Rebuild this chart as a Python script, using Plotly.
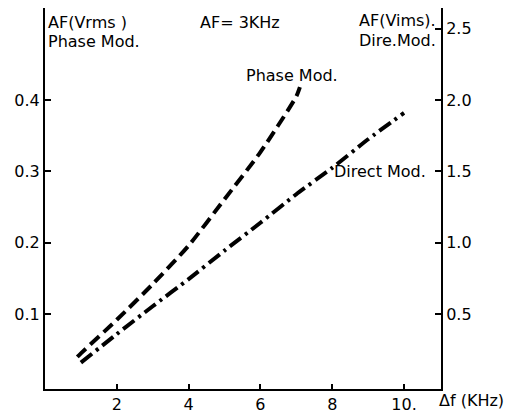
import plotly.graph_objects as go

# Data
freq_phase = [0.9, 1, 2, 3, 4, 5, 6, 7, 7.1]
af_phase = [0.040, 0.045, 0.092, 0.142, 0.196, 0.261, 0.327, 0.405, 0.418]   # left axis (Vrms)

freq_direct = [1, 2, 3, 4, 5, 6, 7, 8, 9, 10]
af_direct = [0.16, 0.36, 0.555, 0.745, 0.945, 1.14, 1.34, 1.525, 1.725, 1.91]  # right axis (Vrms)

x_ticks = [2, 4, 6, 8, 10]
x_ticktext = ["2", "4", "6", "8", "10."]
y1_ticks = [0.1, 0.2, 0.3, 0.4]
y1_ticktext = ["0.1", "0.2", "0.3", "0.4"]
y2_ticks = [0.5, 1.0, 1.5, 2.0, 2.5]
y2_ticktext = ["0.5", "1.0", "1.5", "2.0", "2.5"]

FONT = "DejaVu Sans"
FS = 16

fig = go.Figure()
fig.add_trace(go.Scatter(x=freq_phase, y=af_phase, mode="lines",
                         line=dict(color="black", width=4, dash="12px,6px", shape="spline", smoothing=0.6),
                         yaxis="y", showlegend=False))
fig.add_trace(go.Scatter(x=freq_direct, y=af_direct, mode="lines",
                         line=dict(color="black", width=4, dash="14px,5px,3px,5px", shape="spline", smoothing=0.6),
                         yaxis="y2", showlegend=False))

axis_common = dict(showgrid=False, zeroline=False, showline=True, linecolor="black",
                   linewidth=2, ticks="inside", tickcolor="black", tickwidth=1.5,
                   tickfont=dict(family=FONT, size=FS, color="black"))

fig.update_layout(
    width=507, height=407,
    margin=dict(l=37, r=74, t=0, b=26),
    paper_bgcolor="white", plot_bgcolor="white",
    font=dict(family=FONT, size=FS, color="black"),
    xaxis=dict(range=[0, 11.03], tickvals=x_ticks, ticktext=x_ticktext, ticklen=5, **axis_common),
    yaxis=dict(range=[-0.005, 0.529], tickvals=y1_ticks, ticktext=y1_ticktext, ticklen=6, **axis_common),
    yaxis2=dict(range=[-0.025, 2.645], tickvals=y2_ticks, ticktext=y2_ticktext, ticklen=6,
                overlaying="y", side="right", **axis_common),
)

ann = [
    dict(x=0.02, y=0.509, text="AF(Vrms )", xanchor="left"),
    dict(x=0.02, y=0.482, text="Phase Mod.", xanchor="left"),
    dict(x=5.42, y=0.509, text="AF= 3KHz", xanchor="center"),
    dict(x=10.95, y=0.511, text="AF(Vims).", xanchor="right"),
    dict(x=10.95, y=0.484, text="Dire.Mod.", xanchor="right"),
    dict(x=5.55, y=0.435, text="Phase Mod.", xanchor="left"),
    dict(x=7.98, y=0.300, text="Direct Mod.", xanchor="left"),
]
for a in ann:
    fig.add_annotation(xref="x", yref="y", yanchor="middle", showarrow=False,
                       font=dict(family=FONT, size=FS, color="black"), **a)
fig.add_annotation(xref="paper", yref="paper", x=0.99, y=-0.03, text="Δf (KHz)",
                   xanchor="left", yanchor="middle", showarrow=False,
                   font=dict(family=FONT, size=FS, color="black"))

fig.write_html("out.html")
